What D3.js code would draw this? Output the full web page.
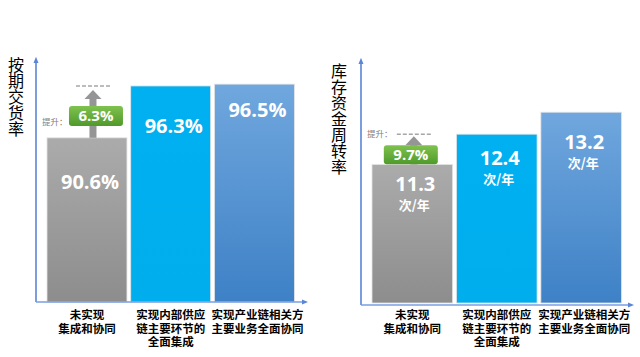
<!DOCTYPE html>
<html><head><meta charset="utf-8">
<script src="https://cdn.jsdelivr.net/npm/d3@7"></script>
<style>
html,body{margin:0;padding:0;background:#fff;}
svg{display:block;}
</style></head>
<body>
<script>
// ---- data ----
const categories = [
  ["未实现", "集成和协同"],
  ["实现内部供应", "链主要环节的", "全面集成"],
  ["实现产业链相关方", "主要业务全面协同"]
];
const deliveryRate = [90.6, 96.3, 96.5];      // 按期交货率 (%)
const turnoverRate = [11.3, 12.4, 13.2];      // 库存资金周转率 (次/年)
const liftValues = [6.3, 9.7];                // 提升 (%)
const yTitles = ["按期交货率", "库存资金周转率"];
const liftLabel = "提升：";
const unitLabel = "次/年";

// ---- layout ----
const W = 640, H = 357;
const svg = d3.select("body").append("svg").attr("width", W).attr("height", H);
const defs = svg.append("defs");

function grad(id, c0, c1) {
  const g = defs.append("linearGradient").attr("id", id)
    .attr("x1", 0).attr("y1", 0).attr("x2", 0).attr("y2", 1);
  g.append("stop").attr("offset", "0%").attr("stop-color", c0);
  g.append("stop").attr("offset", "100%").attr("stop-color", c1);
}
grad("gGray", "#ababab", "#8d8d8d");
grad("gCyan", "#00b0f0", "#00aeee");
grad("gBlue", "#70a7de", "#3e81c6");
grad("gGreen", "#80c24e", "#4f9a2b");
const barFills = ["url(#gGray)", "url(#gCyan)", "url(#gBlue)"];

const marker = defs.append("marker").attr("id", "axArrow")
  .attr("viewBox", "0 0 10 10").attr("refX", 5).attr("refY", 5)
  .attr("markerWidth", 4).attr("markerHeight", 4).attr("orient", "auto");
marker.append("path").attr("d", "M0,1 L10,5 L0,9 Z").attr("fill", "#5b85d6");

const cnFont = "'Noto Sans CJK SC', 'Noto Sans', sans-serif";
const numFont = "'Open Sans', 'Noto Sans', sans-serif";

function drawPanel(cfg) {
  const g = svg.append("g");
  const x = d3.scaleBand().domain(d3.range(cfg.values.length))
    .range(cfg.xRange).paddingInner(0.045).paddingOuter(0);
  const y = d3.scaleLinear().domain(cfg.yDomain).range(cfg.yRange);
  const base = cfg.yRange[0];

  // bars
  g.selectAll("rect.bar").data(cfg.values).join("rect").attr("class", "bar")
    .attr("x", (d, i) => x(i)).attr("width", x.bandwidth())
    .attr("y", d => y(d)).attr("height", d => base - y(d))
    .attr("fill", (d, i) => barFills[i])
    .attr("stroke", "#e4e4e4").attr("stroke-width", 0.8);

  // value labels
  g.selectAll("text.val").data(cfg.values).join("text").attr("class", "val")
    .attr("x", (d, i) => x(i) + x.bandwidth() / 2 + 3)
    .attr("y", (d, i) => y(d) + cfg.labelDy[i])
    .attr("text-anchor", "middle").attr("fill", "#fff")
    .attr("font-family", numFont).attr("font-weight", 700).attr("font-size", 20)
    .text(cfg.format);
  if (cfg.unit) {
    g.selectAll("text.unit").data(cfg.values).join("text").attr("class", "unit")
      .attr("x", (d, i) => x(i) + x.bandwidth() / 2 + 2)
      .attr("y", (d, i) => y(d) + cfg.labelDy[i] + 19)
      .attr("text-anchor", "middle").attr("fill", "#fff")
      .attr("font-family", cnFont).attr("font-weight", 700).attr("font-size", 13)
      .text(cfg.unit);
  }

  // lift annotation
  const v0 = cfg.values[0];
  const target = v0 * (1 + cfg.lift / 100);
  const ax = x(0) + x.bandwidth() / 2 + cfg.annDx;
  const yT = y(target);
  const tip = yT + cfg.tipGap;
  const boxY = tip + cfg.boxGap;
  g.append("line").attr("x1", ax - 17).attr("x2", ax + 17).attr("y1", yT).attr("y2", yT)
    .attr("stroke", "#a6a6a6").attr("stroke-width", 1.5).attr("stroke-dasharray", "4,2");
  g.append("rect").attr("x", ax - 3.5).attr("width", 7)
    .attr("y", tip + 8).attr("height", y(v0) - tip - 8).attr("fill", "#959595");
  g.append("path").attr("d", `M${ax},${tip} L${ax + 8.5},${tip + 9} L${ax - 8.5},${tip + 9} Z`)
    .attr("fill", "#959595");
  g.append("rect").attr("x", ax + cfg.boxDx - 27).attr("y", boxY).attr("width", 54).attr("height", cfg.boxH)
    .attr("rx", 3).attr("fill", "url(#gGreen)");
  g.append("text").attr("x", ax + cfg.boxDx).attr("y", boxY + cfg.boxH / 2 + 5.5)
    .attr("text-anchor", "middle").attr("fill", "#fff")
    .attr("font-family", numFont).attr("font-weight", 700).attr("font-size", 15)
    .text(cfg.lift + "%");
  g.append("text").attr("x", cfg.liftLabelX).attr("y", yT + cfg.liftLabelDy)
    .attr("fill", "#7f7f7f").attr("font-family", cnFont).attr("font-size", 8.5)
    .text(liftLabel);

  // axes
  g.append("line").attr("x1", cfg.axisX).attr("x2", cfg.axisX)
    .attr("y1", cfg.axisY).attr("y2", cfg.axisTop)
    .attr("stroke", "#5b85d6").attr("stroke-width", 1.6).attr("marker-end", "url(#axArrow)");
  g.append("line").attr("x1", cfg.axisX).attr("x2", cfg.axisRight)
    .attr("y1", cfg.axisY).attr("y2", cfg.axisY)
    .attr("stroke", "#7a9ee0").attr("stroke-width", 1.6).attr("marker-end", "url(#axArrow)");

  // y title (vertical text)
  g.append("text")
    .attr("x", cfg.titleX).attr("y", cfg.titleY)
    .style("writing-mode", "vertical-rl").style("text-orientation", "upright")
    .attr("fill", "#000")
    .attr("font-family", cnFont).attr("font-size", 16).text(cfg.title);

  // category labels
  categories.forEach((lines, i) => {
    const t = g.append("text").attr("text-anchor", "middle")
      .attr("font-family", cnFont).attr("font-weight", 700).attr("font-size", 11.5)
      .attr("fill", "#000");
    lines.forEach((l, j) => {
      t.append("tspan").attr("x", x(i) + x.bandwidth() / 2 + (i === 2 ? 3 : 0))
        .attr("y", cfg.catY + j * 13.5).text(l);
    });
  });
}

drawPanel({
  values: deliveryRate, title: yTitles[0], lift: liftValues[0],
  format: d => d.toFixed(1) + "%",
  xRange: [47, 294.4], yDomain: [72.55, 100], yRange: [302, 52.3],
  labelDy: [51, 47, 33],
  annDx: 6, tipGap: 4, boxGap: 16, boxH: 20, boxDx: 3,
  liftLabelX: 42, liftLabelDy: 39,
  axisX: 36, axisY: 302, axisTop: 60, axisRight: 305,
  titleX: 16, titleY: 57, catY: 319
});
drawPanel({
  values: turnoverRate, title: yTitles[1], lift: liftValues[1], unit: unitLabel,
  format: d => d.toFixed(1),
  xRange: [372, 621.5], yDomain: [6.26, 14], yRange: [303, 90.2],
  labelDy: [27, 31, 37],
  annDx: 1.5, tipGap: 2, boxGap: 9, boxH: 19, boxDx: -3,
  liftLabelX: 367, liftLabelDy: 3,
  axisX: 361, axisY: 305, axisTop: 61, axisRight: 631,
  titleX: 339, titleY: 63, catY: 319
});
</script>
</body></html>
